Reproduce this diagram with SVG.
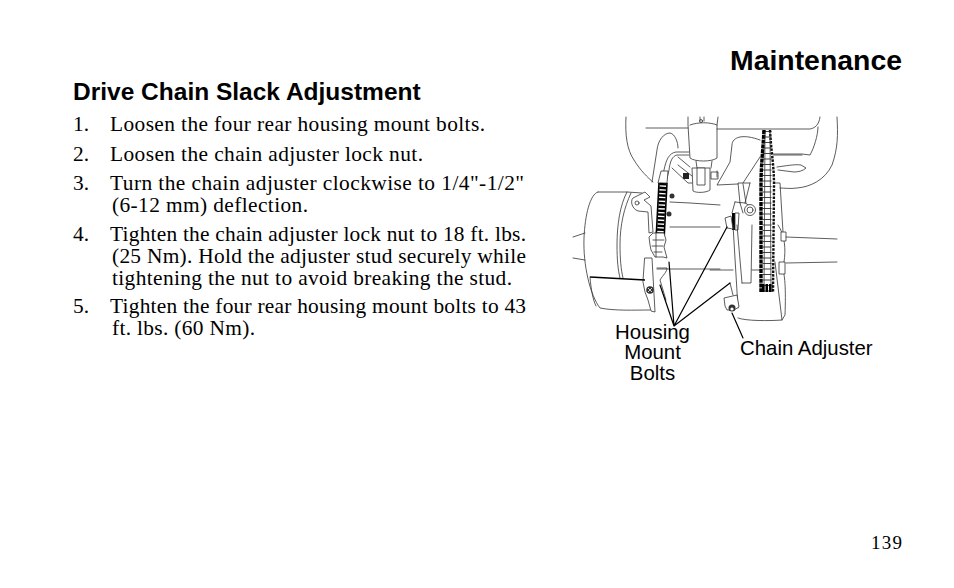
<svg xmlns="http://www.w3.org/2000/svg" width="954" height="588" viewBox="0 0 954 588">
<style>
.t{font-family:"Liberation Serif",serif;font-size:21.4px;fill:#000}
.l{font-family:"Liberation Sans",Arial,sans-serif;font-size:20.4px;fill:#000}
.a{fill:none;stroke:#333;stroke-width:.8;stroke-linecap:round;stroke-linejoin:round}
.b{fill:none;stroke:#000;stroke-width:1.2;stroke-linecap:round;stroke-linejoin:round}
.w{fill:#fff;stroke:#333;stroke-width:.8;stroke-linejoin:round}
</style>
<rect width="954" height="588" fill="#fff"/>
<text x="730" y="70" font-family="Liberation Sans,Arial,sans-serif" font-size="28.4" font-weight="700">Maintenance</text>
<text x="73" y="100" font-family="Liberation Sans,Arial,sans-serif" font-size="24.5" font-weight="700">Drive Chain Slack Adjustment</text>
<g>
<text class="t" x="73" y="131">1.</text><text class="t" x="110" y="131" textLength="375">Loosen the four rear housing mount bolts.</text>
<text class="t" x="73" y="161">2.</text><text class="t" x="110" y="161" textLength="313">Loosen the chain adjuster lock nut.</text>
<text class="t" x="73" y="190">3.</text><text class="t" x="110" y="190" textLength="414">Turn the chain adjuster clockwise to 1/4"-1/2"</text>
<text class="t" x="112" y="212" textLength="196">(6-12 mm) deflection.</text>
<text class="t" x="73" y="241">4.</text><text class="t" x="110" y="241" textLength="416">Tighten the chain adjuster lock nut to 18 ft. lbs.</text>
<text class="t" x="112" y="262.500" textLength="414">(25 Nm). Hold the adjuster stud securely while</text>
<text class="t" x="112" y="284.500" textLength="400">tightening the nut to avoid breaking the stud.</text>
<text class="t" x="73" y="313">5.</text><text class="t" x="110" y="313" textLength="416">Tighten the four rear housing mount bolts to 43</text>
<text class="t" x="112" y="335" textLength="143">ft. lbs. (60 Nm).</text>
</g>
<text x="871" y="548.500" textLength="31" font-family="Liberation Serif,serif" font-size="19">139</text>
<g id="illustration">
<!-- frame -->
<path class="a" d="M626 117C625 135 627 150 634 160C640 170 648 178 653 182"/>
<path class="a" d="M646 128H688M717 129H810C815 128 819 125 820 117"/>
<path class="a" d="M837 117C838 135 838 148 832 165C825 180 810 187 797 188C790 189 785 188 780 188"/>
<path class="a" d="M818 127C818 135 814 148 810 155L802 154H773M773 155H802"/>
<path class="a" d="M777 167C785 166 795 164 801 165L806 168C803 171 798 172 794 172L778 170"/>
<path class="a" d="M652 182L657 150C658 140 664 133 670 133C675 134 678 142 678 148"/>
<path class="a" d="M760 140C752 137 745 136 740 137C735 138 732 141 732 145L730 162L717 185L738 184M760 157L743 183"/>
<!-- shock -->
<path class="a" d="M688 117V125L690 158C695 162 712 162 717 158V125L718 117"/>
<path class="a" d="M690 125C698 122 710 122 717 125M700 117V121M704 117V121"/>
<circle class="a" cx="701" cy="121" r="1.500"/>
<path class="a" d="M696 161L697 168M712 161L711 168"/>
<path class="w" d="M692 168H710V190C706 193 696 193 693 191Z"/>
<path class="w" d="M697 168H705V185H697Z"/>
<rect class="w" x="711" y="172" width="7" height="7"/>
<rect x="683" y="173" width="6" height="6" fill="#222"/>
<path class="a" d="M672 168L688 183H692M678 165L692 176M678 157L690 167"/>
<path class="a" d="M717 171V177"/>
<!-- cable -->
<path class="a" d="M689 152H676C669 153 666 160 664 170L661 183M689 155H677C672 156 670 162 669 170L666 183"/>
<path class="w" d="M658 183L661 171H668L667 183Z"/>
<!-- motor -->
<path class="a" d="M598 192C590 194 585 215 584 238C583 265 590 295 600 308C615 311 635 310 650 310"/>
<path class="a" d="M598 192H627L642 193"/>
<path class="a" d="M627 192C620 205 617 225 617 245C617 260 618 270 620 278M631 193C624 208 620 225 620 245C620 258 621 270 623 278"/>
<path class="a" d="M573 237L585 233M573 258L585 260"/>
<path class="w" d="M633 198L645 192L650 197L644 200L651 206L653 232L649 233L648 212L638 211C632 209 630 201 633 198Z"/>
<circle class="a" cx="637" cy="203" r="2"/>
<path class="a" d="M670 202L690 203L720 205M670 227L720 227M657 269H720M752 270H760M710 270H733"/>
<!-- spring -->
<circle cx="672" cy="196" r="2.500" fill="#333"/><circle cx="669" cy="214" r="2.500" fill="#333"/>
<path d="M663 183L660 240" fill="none" stroke="#000" stroke-width="7" stroke-dasharray="2.400 1.400"/>
<path d="M659 183L656 240M667 183L664 240" fill="none" stroke="#000" stroke-width="1.600"/>
<path class="w" d="M649 237L653 233H664L666 240L664 247L667 258L663 257L660 257L655 257L651 250L650 245Z"/>
<path class="a" d="M653 240H664M652 246H663M654 252H662M656 232V257"/>
<!-- lower housing -->
<path class="a" d="M645 258H652L655 312L651 311L648 300L645 292L643 282Z"/>
<path d="M590 277L645 280" stroke="#000" stroke-width="1.400" fill="none"/>
<path class="a" d="M590 277C591 290 593 300 596 306"/>
<path class="a" d="M657 268H667C667 272 663 275 660 280L666 300"/>
<circle cx="650" cy="290" r="3.800" fill="#333"/>
<path d="M648 288L652 292M652 288L648 292" stroke="#fff" stroke-width=".8"/>
<!-- clamp -->
<path class="a" d="M735 202L745 203L752 207M750 183H738L740 203M750 183L745 203M743 184L746 203"/>
<circle class="w" cx="750" cy="210" r="5.500"/><circle class="a" cx="750" cy="210" r="3"/>
<path class="a" d="M735 202L732 213M740 203L743 213"/>
<rect x="732" y="213" width="3" height="17" fill="#000"/>
<path class="w" d="M735 213H739L738 230H735Z"/>
<path class="w" d="M725 218L731 216L733 229L727 228Z"/>
<path class="a" d="M752 225L751 283H742M733 225L738 308M737 225L742 283"/>
<path class="w" d="M724 298L737 295L739 307L734 310L727 310L725 306Z"/>
<circle cx="732" cy="308" r="3.500" fill="#333"/><circle cx="732" cy="309" r="1.600" fill="#fff"/>
<path class="a" d="M730 283L733 295"/>
<path class="a" d="M738 318C745 321 770 321 782 320L785 315C786 290 785 272 782 268M775 183H780L783 232"/>
<path class="a" d="M775 262L782 320M778 225C785 235 786 250 784 262"/>
<path class="w" d="M781 232H786V241H781Z"/><path class="w" d="M779 262H785V274H779Z"/>
<path class="a" d="M786 237L837 239M786 263L837 262"/>
<!-- chain -->
<path d="M763 130H771L775 175L773 293H760L760 175Z" fill="#fff"/>
<path d="M767 131V292" fill="none" stroke="#444" stroke-width="9" stroke-dasharray="1 4.500"/>
<path d="M764 130C763 150 761 165 761 185L761 292" fill="none" stroke="#000" stroke-width="3.400" stroke-dasharray="4 .8"/>
<path d="M770 130C771 150 774 165 774 185L773 292" fill="none" stroke="#111" stroke-width="2.400" stroke-dasharray="2.500 1.200"/>
<path d="M765 132L764 292M770 132L771 292" fill="none" stroke="#333" stroke-width=".8"/>
<path d="M762 288H773" stroke="#000" stroke-width="8" stroke-dasharray="2.500 1"/>
</g>
<g id="connectors">
<path class="b" d="M674 326L660 285M674 326L669 262M674 326L727 227M674 326L730 283M732 313L743 338"/>
</g>
<g id="labels">
<text class="l" x="652.500" y="339" text-anchor="middle">Housing</text>
<text class="l" x="652.500" y="359" text-anchor="middle">Mount</text>
<text class="l" x="652.500" y="380" text-anchor="middle">Bolts</text>
<text class="l" x="740" y="355">Chain Adjuster</text>
</g>
</svg>
